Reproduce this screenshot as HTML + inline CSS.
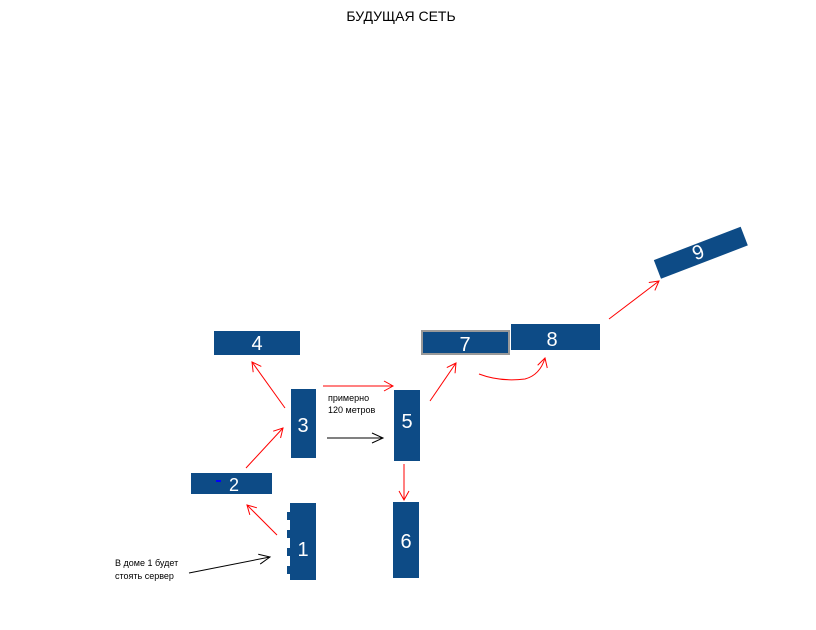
<!DOCTYPE html>
<html><head><meta charset="utf-8"><style>
html,body{margin:0;padding:0;background:#fff;}
svg{display:block;}
text{font-family:"Liberation Sans",sans-serif;}
</style></head><body>
<svg width="816" height="630" viewBox="0 0 816 630" xmlns="http://www.w3.org/2000/svg">
<defs>
<marker id="ar" markerWidth="12" markerHeight="12" refX="10" refY="6" orient="auto" markerUnits="userSpaceOnUse">
<path d="M1,1 L10,6 L1,11" fill="none" stroke="#f00" stroke-width="1"/></marker>
<marker id="ab" markerWidth="14" markerHeight="12" refX="12" refY="6" orient="auto" markerUnits="userSpaceOnUse">
<path d="M1,1 L12,6 L1,11" fill="none" stroke="#000" stroke-width="1"/></marker>
</defs>
<text x="401" y="21" font-size="14" text-anchor="middle">БУДУЩАЯ СЕТЬ</text>
<g fill="#0d4b86">
<rect x="214" y="331" width="86" height="24"/>
<rect x="291" y="389" width="25" height="69"/>
<rect x="394" y="390" width="26" height="71"/>
<rect x="191" y="473" width="81" height="21"/>
<rect x="290" y="503" width="26" height="77"/>
<rect x="287" y="512" width="4" height="8"/><rect x="287" y="530" width="4" height="8"/>
<rect x="287" y="548" width="4" height="8"/><rect x="287" y="566" width="4" height="8"/>
<rect x="393" y="502" width="26" height="76"/>
<rect x="422" y="331" width="87" height="23" stroke="#999" stroke-width="2"/>
<rect x="511" y="324" width="89" height="26"/>
<rect x="654" y="243" width="93" height="20" transform="rotate(-21 700 252)"/>
</g>
<g fill="#fff" font-size="20" text-anchor="middle" font-family="Liberation Sans,sans-serif">
<text x="257" y="350">4</text>
<text x="303" y="432">3</text>
<text x="407" y="428">5</text>
<text x="234" y="491" font-size="18">2</text>
<text x="303" y="556">1</text>
<text x="406" y="548">6</text>
<text x="465" y="351">7</text>
<text x="552" y="346">8</text>
<text x="698" y="259" transform="rotate(-21 698 252)">9</text>
</g>
<rect x="216" y="480" width="5" height="2" fill="#00f"/>
<g stroke="#f00" stroke-width="1" fill="none">
<line x1="277" y1="535" x2="247" y2="505" marker-end="url(#ar)"/>
<line x1="246" y1="468" x2="283" y2="428" marker-end="url(#ar)"/>
<line x1="285" y1="408" x2="252" y2="362" marker-end="url(#ar)"/>
<line x1="323" y1="386" x2="393" y2="386" marker-end="url(#ar)"/>
<line x1="430" y1="401" x2="456" y2="363" marker-end="url(#ar)"/>
<line x1="404" y1="464" x2="404" y2="500" marker-end="url(#ar)"/>
<path d="M479,374 Q500,382 525,379 Q540,375 545,358" marker-end="url(#ar)"/>
<line x1="609" y1="319" x2="659" y2="281" marker-end="url(#ar)"/>
</g>
<g stroke="#000" stroke-width="1" fill="none">
<line x1="327" y1="438" x2="383" y2="438" marker-end="url(#ab)"/>
<line x1="189" y1="573" x2="270" y2="557" marker-end="url(#ab)"/>
</g>
<g font-size="9" fill="#000">
<text x="328" y="401">примерно</text>
<text x="328" y="413">120 метров</text>
<text x="115" y="566">В доме 1 будет</text>
<text x="115" y="579">стоять сервер</text>
</g>
</svg>
</body></html>
